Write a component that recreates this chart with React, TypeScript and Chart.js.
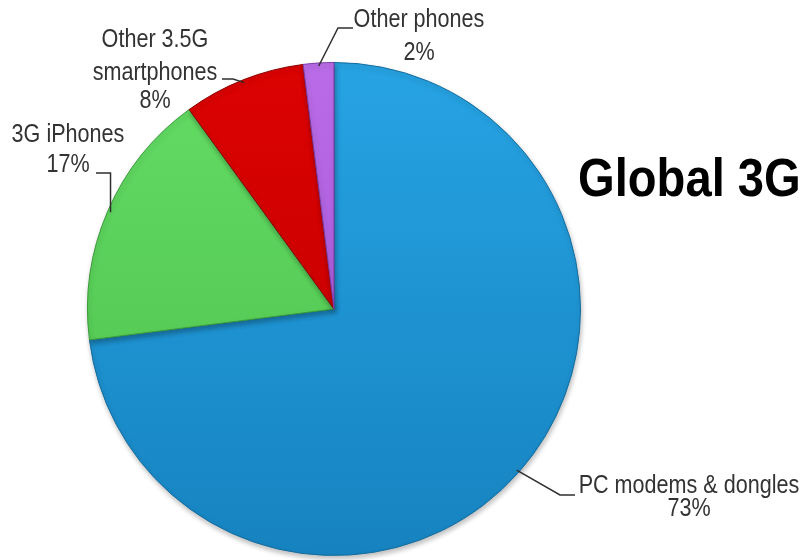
import React, { useEffect, useRef } from 'react';
import { Chart, registerables } from 'chart.js';

Chart.register(...registerables);

// ---- data ----
const categories: string[][] = [
  ['PC modems & dongles'],
  ['3G iPhones'],
  ['Other 3.5G', 'smartphones'],
  ['Other phones'],
];
const shares: number[] = [73, 17, 8, 2];
const titleText = 'Global 3G';

// ---- styles ----
const sliceTop = ['#27A3E3', '#64DC64', '#DC0202', '#BA6CE8'];
const sliceBottom = ['#1683C0', '#4CC04C', '#BE0000', '#9E4ED0'];
const sliceBorder = ['#136C9E', '#3A9A3A', '#8A0000', '#7A3CA6'];

// label layout (position of text relative to canvas)
const LABEL_LAYOUT = [
  { cx: 689, baselines: [493, 516], elbowX: 560, elbowY: 495, endX: 575, vertical: false },
  { cx: 68, baselines: [142, 172], elbowX: 0, elbowY: 173, endX: 96, vertical: true },
  { cx: 155, baselines: [47, 80, 108], elbowX: 233, elbowY: 79, endX: 222, vertical: false },
  { cx: 419, baselines: [27, 60], elbowX: 338, elbowY: 28, endX: 353, vertical: false },
];

const LABEL_FONT = '26px "Liberation Sans", Arial, sans-serif';
const LABEL_SX = 0.83;
const TITLE_FONT = 'bold 53px "Liberation Sans", Arial, sans-serif';
const TITLE_SX = 0.89;

function drawScaledText(
  ctx: CanvasRenderingContext2D,
  text: string,
  x: number,
  y: number,
  font: string,
  sx: number,
  align: CanvasTextAlign,
  color: string
) {
  ctx.save();
  ctx.translate(x, y);
  ctx.scale(sx, 1);
  ctx.font = font;
  ctx.fillStyle = color;
  ctx.textAlign = align;
  ctx.textBaseline = 'alphabetic';
  ctx.fillText(text, 0, 0);
  ctx.restore();
}

const labelPlugin = {
  id: 'pieLabels',
  afterDatasetsDraw(chart: any) {
    const ctx: CanvasRenderingContext2D = chart.ctx;
    const meta = chart.getDatasetMeta(0);
    meta.data.forEach((arc: any, i: number) => {
      const p = arc.getProps(['x', 'y', 'startAngle', 'endAngle', 'outerRadius'], true);
      const mid = (p.startAngle + p.endAngle) / 2;
      const r = p.outerRadius - 3;
      const ax = p.x + Math.cos(mid) * r;
      const ay = p.y + Math.sin(mid) * r;
      const L = LABEL_LAYOUT[i];
      const ex = L.vertical ? ax : L.elbowX;
      ctx.save();
      ctx.strokeStyle = '#2f2f2f';
      ctx.lineWidth = 1.5;
      ctx.beginPath();
      ctx.moveTo(ax, ay);
      ctx.lineTo(ex, L.elbowY);
      ctx.lineTo(L.endX, L.elbowY);
      ctx.stroke();
      ctx.restore();
      const lines = [...categories[i], `${shares[i]}%`];
      lines.forEach((t, k) => {
        drawScaledText(ctx, t, L.cx, L.baselines[k], LABEL_FONT, LABEL_SX, 'center', '#333333');
      });
    });
    drawScaledText(ctx, titleText, 578, 196, TITLE_FONT, TITLE_SX, 'left', '#000000');
  },
};

const shadowPlugin = {
  id: 'pieShadow',
  beforeDatasetsDraw(chart: any) {
    const ctx = chart.ctx;
    ctx.save();
    ctx.shadowColor = 'rgba(0,0,0,0.25)';
    ctx.shadowBlur = 5;
    ctx.shadowOffsetX = 1;
    ctx.shadowOffsetY = 3;
  },
  afterDatasetsDraw(chart: any) {
    chart.ctx.restore();
  },
};

export default function App() {
  const canvasRef = useRef<HTMLCanvasElement | null>(null);

  useEffect(() => {
    if (!canvasRef.current) return;
    const chart = new Chart(canvasRef.current, {
      type: 'pie',
      data: {
        labels: categories.map((c) => c.join(' ')),
        datasets: [
          {
            data: shares,
            backgroundColor: (c: any) => {
              const area = c.chart.chartArea;
              const i = c.dataIndex;
              if (!area) return sliceTop[i];
              const g = c.chart.ctx.createLinearGradient(0, area.top, 0, area.bottom);
              g.addColorStop(0, sliceTop[i]);
              g.addColorStop(1, sliceBottom[i]);
              return g;
            },
            borderColor: sliceBorder,
            borderWidth: 1,
          },
        ],
      },
      options: {
        animation: false,
        responsive: false,
        events: [],
        layout: { padding: { left: 87, right: 222, top: 62, bottom: 4 } },
        plugins: {
          legend: { display: false },
          tooltip: { enabled: false },
          title: { display: false },
        },
      },
      plugins: [shadowPlugin, labelPlugin],
    });
    return () => chart.destroy();
  }, []);

  return (
    <div style={{ position: 'absolute', left: 0, top: 0, width: 803, height: 560, background: '#ffffff' }}>
      <canvas ref={canvasRef} width={803} height={560} style={{ width: 803, height: 560 }} />
    </div>
  );
}
